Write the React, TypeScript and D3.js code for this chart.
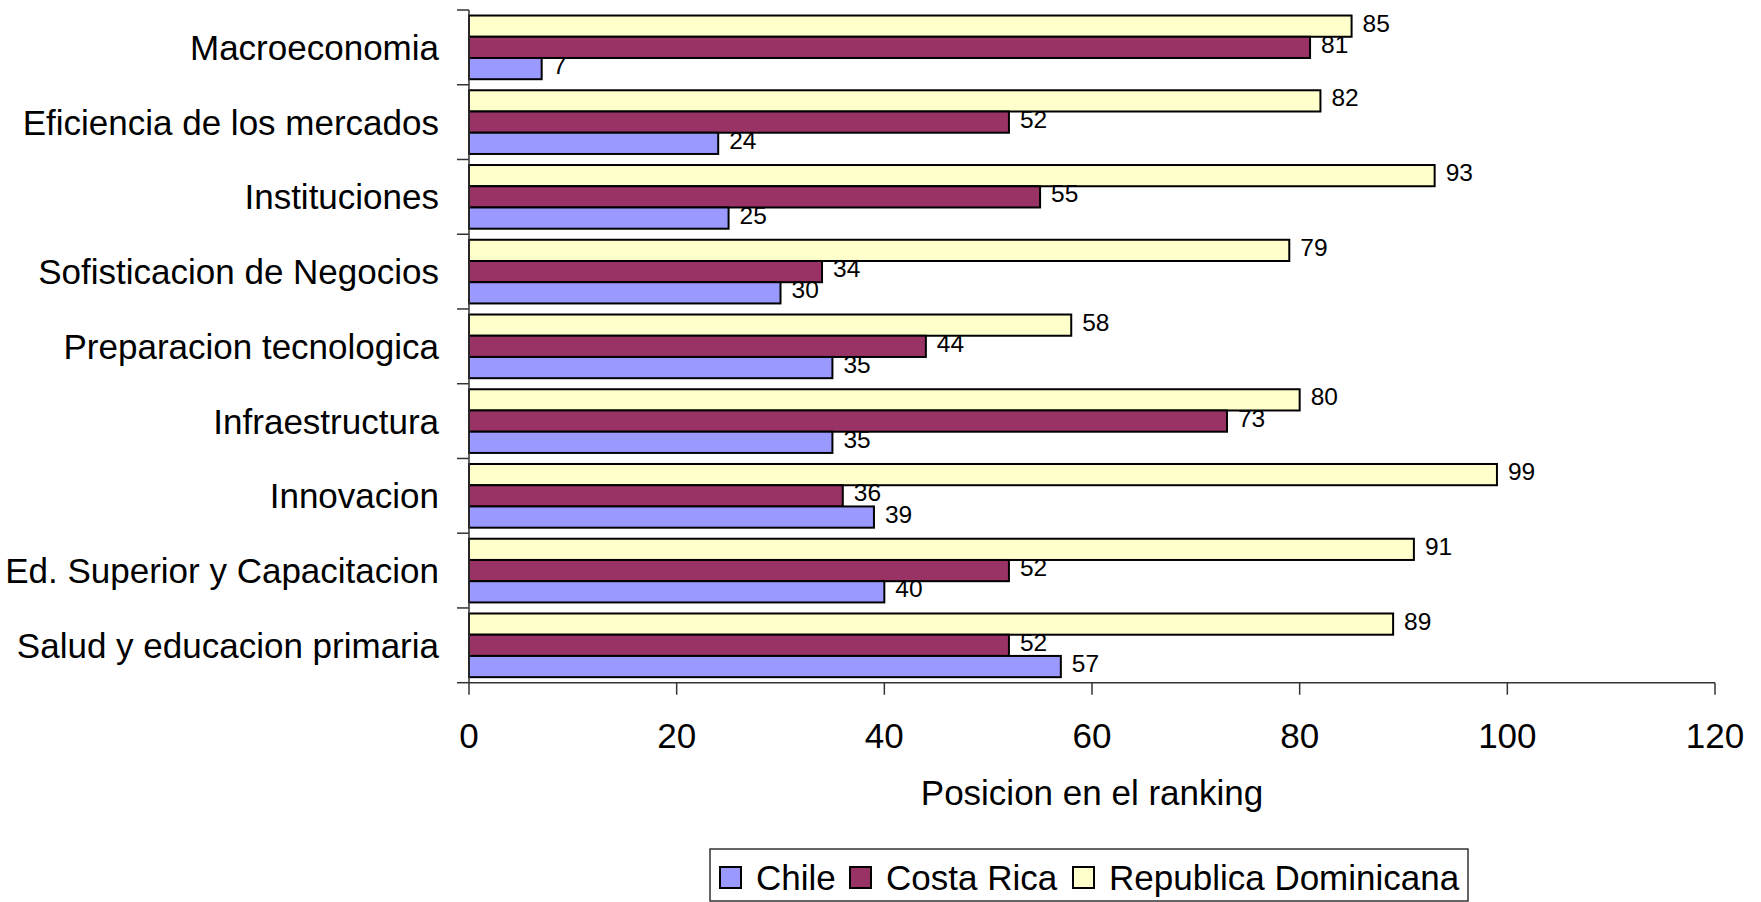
import React from "react";
import * as d3 from "d3";

const categories = [
  "Macroeconomia",
  "Eficiencia de los mercados",
  "Instituciones",
  "Sofisticacion de Negocios",
  "Preparacion tecnologica",
  "Infraestructura",
  "Innovacion",
  "Ed. Superior y Capacitacion",
  "Salud y educacion primaria",
];
const seriesNames = ["Chile", "Costa Rica", "Republica Dominicana"];
const chile = [7, 24, 25, 30, 35, 35, 39, 40, 57];
const costaRica = [81, 52, 55, 34, 44, 73, 36, 52, 52];
const repDom = [85, 82, 93, 79, 58, 80, 99, 91, 89];
const xTicks = [0, 20, 40, 60, 80, 100, 120];
const colors = ["#9999FF", "#993366", "#FFFFCC"];

const W = 1761;
const H = 902;
const FONT = "'Liberation Sans', Arial, sans-serif";

export default function App() {
  const left = 469;
  const right = 1715;
  const top = 10;
  const bottom = 682.7;
  const x = d3.scaleLinear().domain([0, 120]).range([left, right]);
  const y = d3.scaleBand<string>().domain(categories).range([top, bottom]).paddingInner(0).paddingOuter(0);
  const bw = y.bandwidth();
  const gap = bw * 0.148;
  // order within group, top to bottom: Rep Dom, Costa Rica, Chile
  const order = [2, 1, 0];
  const inner = d3
    .scaleBand<number>()
    .domain(order)
    .range([gap / 2, bw - gap / 2]);
  const data = [chile, costaRica, repDom];
  const boundaries = d3.range(categories.length + 1).map((i) => top + i * bw);

  // legend layout
  const legendItems = [
    { sw: 720, tx: 756 },
    { sw: 850, tx: 886 },
    { sw: 1073, tx: 1109 },
  ];

  return (
    <svg
      width={W}
      height={H}
      style={{ position: "absolute", left: 0, top: 0, background: "#fff" }}
      fontFamily={FONT}
    >
      <rect x={0} y={0} width={W} height={H} fill="#fff" />
      {/* bars */}
      {categories.map((c, ci) => (
        <g key={c}>
          {order.map((si) => {
            const v = data[si][ci];
            const y0 = (y(c) as number) + (inner(si) as number);
            const h = inner.bandwidth();
            return (
              <g key={si}>
                <rect
                  x={x(0)}
                  y={y0}
                  width={x(v) - x(0)}
                  height={h}
                  fill={colors[si]}
                  stroke="#000"
                  strokeWidth={2}
                />
                <text
                  x={x(v) + 11}
                  y={y0 + h / 2 - 3}
                  dy="0.35em"
                  fontSize={24.5}
                  fill="#000"
                >
                  {v}
                </text>
              </g>
            );
          })}
        </g>
      ))}
      {/* y axis */}
      <line x1={left} x2={left} y1={top} y2={bottom} stroke="#333" strokeWidth={1.5} />
      {boundaries.map((b, i) => (
        <line key={i} x1={left - 12} x2={left} y1={b} y2={b} stroke="#333" strokeWidth={1.5} />
      ))}
      {categories.map((c) => (
        <text
          key={c}
          x={439}
          y={(y(c) as number) + bw / 2}
          dy="0.36em"
          textAnchor="end"
          fontSize={35}
          fill="#000"
        >
          {c}
        </text>
      ))}
      {/* x axis */}
      <line x1={left} x2={right} y1={bottom} y2={bottom} stroke="#333" strokeWidth={1.5} />
      {xTicks.map((t) => (
        <g key={t}>
          <line x1={x(t)} x2={x(t)} y1={bottom} y2={bottom + 12} stroke="#333" strokeWidth={1.5} />
          <text x={x(t)} y={748} textAnchor="middle" fontSize={35} fill="#000">
            {t}
          </text>
        </g>
      ))}
      <text x={(left + right) / 2} y={805} textAnchor="middle" fontSize={35} fill="#000">
        Posicion en el ranking
      </text>
      {/* legend */}
      <rect x={710} y={849} width={758} height={52} fill="#fff" stroke="#333" strokeWidth={1.5} />
      {seriesNames.map((s, i) => (
        <g key={s}>
          <rect
            x={legendItems[i].sw}
            y={867}
            width={21}
            height={21}
            fill={colors[i]}
            stroke="#000"
            strokeWidth={2}
          />
          <text x={legendItems[i].tx} y={890} fontSize={35} fill="#000">
            {s}
          </text>
        </g>
      ))}
    </svg>
  );
}
